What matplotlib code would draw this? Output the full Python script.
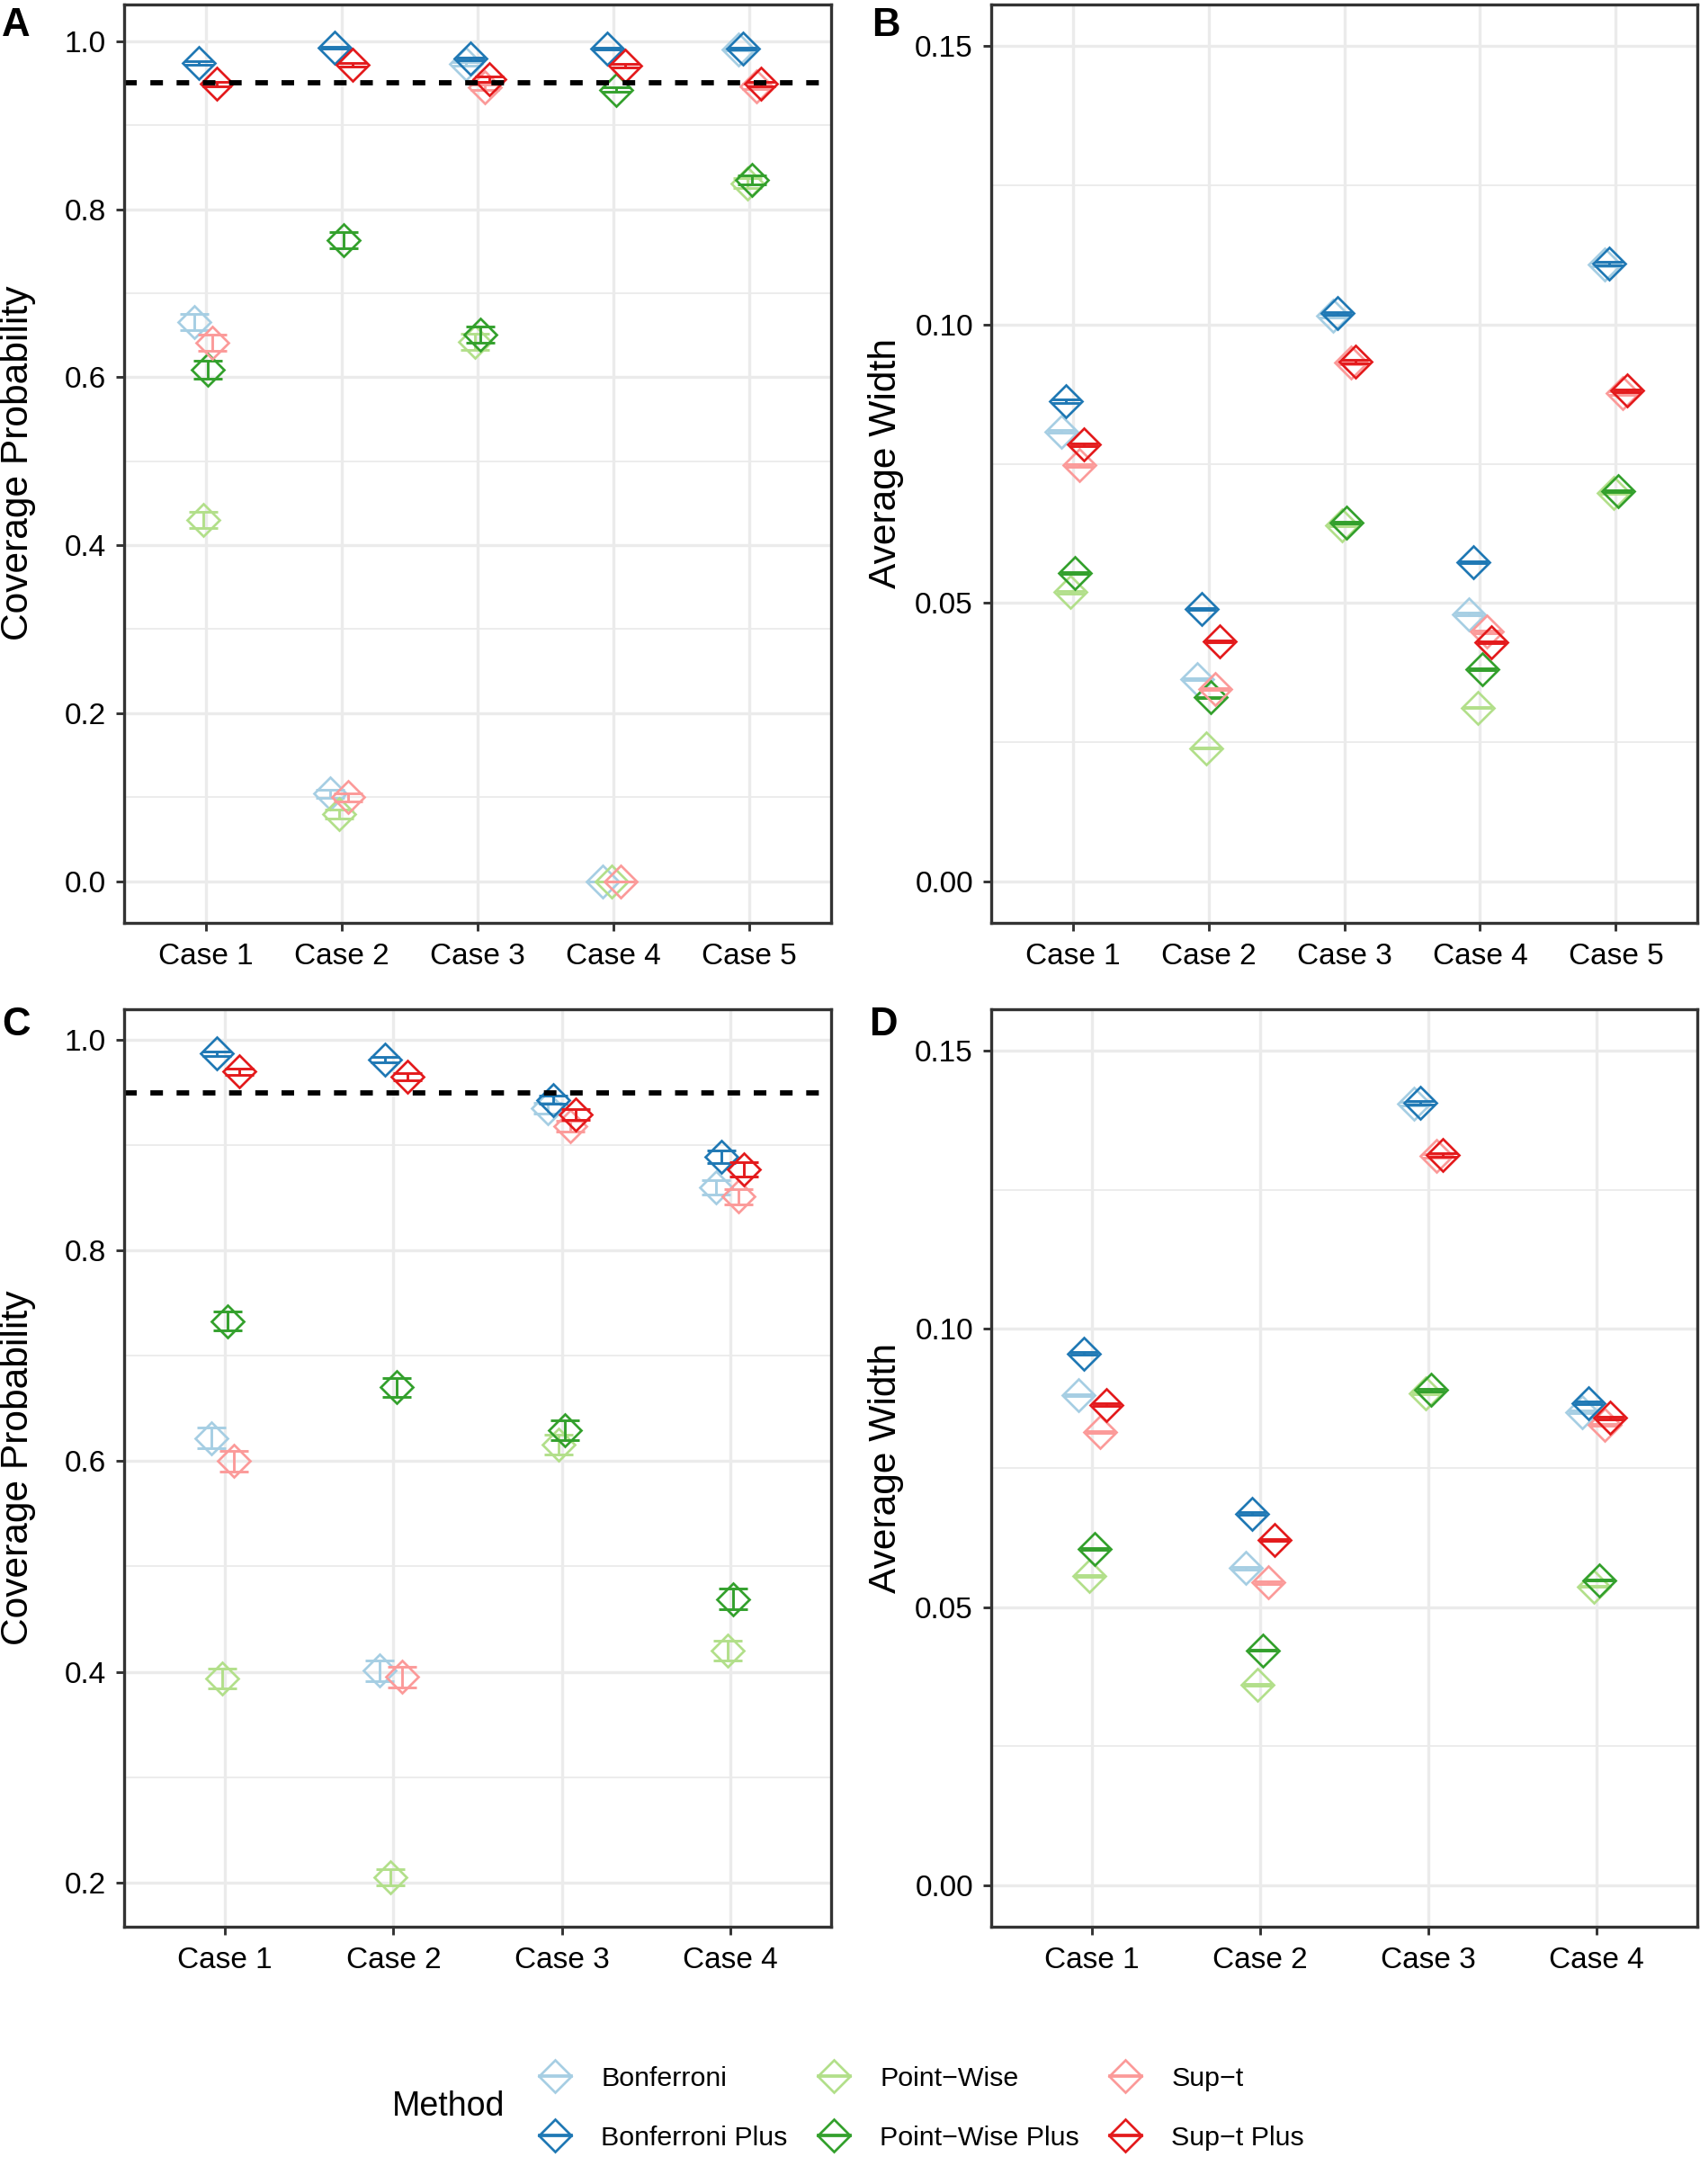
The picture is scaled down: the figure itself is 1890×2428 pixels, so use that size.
import numpy as np
import matplotlib
matplotlib.use("Agg")
import matplotlib.pyplot as plt
from matplotlib.lines import Line2D

plt.rcParams['font.family'] = ['Liberation Sans', 'DejaVu Sans']

# ------------------------------
# DONNÉES
# ------------------------------
methods = ["Bonferroni", "Bonferroni Plus", "Point\u2212Wise",
           "Point\u2212Wise Plus", "Sup\u2212t", "Sup\u2212t Plus"]
colors = ["#A6CEE3", "#1F78B4", "#B2DF8A", "#33A02C", "#FB9A99", "#E31A1C"]

cases_top = ["Case 1", "Case 2", "Case 3", "Case 4", "Case 5"]
cases_bottom = ["Case 1", "Case 2", "Case 3", "Case 4"]

# Panel A : coverage (one row per method, one column per case)
cov_a = [
    [0.666, 0.104, 0.973, 0.000, 0.990],
    [0.974, 0.992, 0.979, 0.991, 0.991],
    [0.430, 0.080, 0.642, 0.000, 0.831],
    [0.609, 0.763, 0.651, 0.942, 0.835],
    [0.641, 0.100, 0.945, 0.000, 0.946],
    [0.949, 0.972, 0.955, 0.971, 0.949],
]
cov_a_err = [
    [0.0095, 0.005, 0.002, 0.000, 0.001],
    [0.002, 0.001, 0.002, 0.001, 0.001],
    [0.0098, 0.005, 0.0095, 0.000, 0.006],
    [0.0105, 0.0094, 0.0095, 0.0027, 0.005],
    [0.010, 0.005, 0.003, 0.000, 0.003],
    [0.003, 0.002, 0.003, 0.002, 0.003],
]

# Panel B : average width
wid_b = [
    [0.0808, 0.0363, 0.1016, 0.0480, 0.1108],
    [0.0862, 0.0489, 0.1020, 0.0573, 0.1110],
    [0.0519, 0.0239, 0.0640, 0.0312, 0.0698],
    [0.0554, 0.0330, 0.0644, 0.0381, 0.0701],
    [0.0747, 0.0345, 0.0931, 0.0448, 0.0877],
    [0.0784, 0.0431, 0.0933, 0.0429, 0.0881],
]
wid_b_err = [
    [0.0003, 0.0002, 0.0003, 0.0002, 0.0003],
    [0.0003, 0.0002, 0.0003, 0.0002, 0.0003],
    [0.0002, 0.0001, 0.0002, 0.0001, 0.0002],
    [0.0002, 0.0001, 0.0002, 0.0002, 0.0002],
    [0.0003, 0.0002, 0.0003, 0.0002, 0.0003],
    [0.0003, 0.0002, 0.0003, 0.0002, 0.0003],
]

# Panel C : coverage
cov_c = [
    [0.622, 0.401, 0.935, 0.860],
    [0.987, 0.981, 0.943, 0.889],
    [0.394, 0.205, 0.616, 0.420],
    [0.733, 0.670, 0.629, 0.469],
    [0.600, 0.395, 0.918, 0.851],
    [0.970, 0.965, 0.929, 0.877],
]
cov_c_err = [
    [0.0096, 0.0096, 0.005, 0.007],
    [0.002, 0.0025, 0.004, 0.006],
    [0.0095, 0.008, 0.0095, 0.0095],
    [0.0088, 0.0092, 0.0094, 0.0098],
    [0.0097, 0.0096, 0.0055, 0.007],
    [0.003, 0.0035, 0.005, 0.0065],
]

# Panel D : average width
wid_d = [
    [0.0881, 0.0570, 0.1405, 0.0851],
    [0.0956, 0.0668, 0.1407, 0.0867],
    [0.0556, 0.0360, 0.0885, 0.0537],
    [0.0604, 0.0422, 0.0890, 0.0548],
    [0.0815, 0.0544, 0.1311, 0.0828],
    [0.0864, 0.0621, 0.1313, 0.0840],
]
wid_d_err = [
    [0.0002, 0.0002, 0.0003, 0.0002],
    [0.0002, 0.0002, 0.0003, 0.0002],
    [0.0002, 0.0001, 0.0002, 0.0001],
    [0.0002, 0.0001, 0.0002, 0.0001],
    [0.0002, 0.0002, 0.0003, 0.0002],
    [0.0002, 0.0002, 0.0003, 0.0002],
]

# ------------------------------
# STYLE
# ------------------------------
W, H = 1890, 2428
DPI = 300
fig = plt.figure(figsize=(W / DPI, H / DPI), dpi=DPI)

BORDER = "#333333"
GRID = "#EBEBEB"
MS = 6.1
MEW = 0.65
CAP = 3.84
DODGE = 0.2


def px_axes(left, top, right, bottom):
    """Axes a partir de coordonnees en pixels."""
    return fig.add_axes([left / W, 1 - bottom / H, (right - left) / W, (bottom - top) / H])


def draw_panel(ax, cases, vals, errs, ylim, major, minor, fmt, hline=None):
    n = len(cases)
    xs = np.arange(1, n + 1)
    for y in major:
        ax.axhline(y, color=GRID, lw=0.8, zorder=0)
    for y in minor:
        ax.axhline(y, color=GRID, lw=0.45, zorder=0)
    for x in xs:
        ax.axvline(x, color=GRID, lw=0.8, zorder=0)

    for i, (v, e, c) in enumerate(zip(vals, errs, colors)):
        x = xs + (i - 2.5) * DODGE / 6
        ax.errorbar(x, v, yerr=e, fmt='none', ecolor=c, elinewidth=0.7,
                    capsize=CAP, capthick=0.7, zorder=2 + i)
        ax.plot(x, v, 'D', ms=MS, mfc='none', mec=c, mew=MEW, zorder=2 + i)

    if hline is not None:
        ax.axhline(hline, color='black', lw=1.4, dashes=(2.4, 2.6), zorder=20)

    ax.set_xlim(0.4, n + 0.6)
    ax.set_ylim(*ylim)
    ax.set_xticks(xs)
    ax.set_xticklabels(cases)
    ax.set_yticks(major)
    ax.set_yticklabels([fmt.format(t) for t in major])
    ax.tick_params(axis='both', direction='out', length=2.2, width=0.7,
                   color=BORDER, labelsize=8, labelcolor='black')
    ax.tick_params(axis='y', pad=2.6)
    ax.tick_params(axis='x', pad=3.0)
    for s in ax.spines.values():
        s.set_color(BORDER)
        s.set_linewidth(0.8)
        s.set_zorder(30)


# A
axA = px_axes(138, 5, 924, 1026)
draw_panel(axA, cases_top, cov_a, cov_a_err, (-0.0497, 1.0437),
           [0.0, 0.2, 0.4, 0.6, 0.8, 1.0], [0.1, 0.3, 0.5, 0.7, 0.9], "{:.1f}", hline=0.95)
# B
axB = px_axes(1102, 5, 1887, 1026)
draw_panel(axB, cases_top, wid_b, wid_b_err, (-0.0075, 0.1575),
           [0.0, 0.05, 0.10, 0.15], [0.025, 0.075, 0.125], "{:.2f}")
# C
axC = px_axes(138, 1122, 924, 2142)
draw_panel(axC, cases_bottom, cov_c, cov_c_err, (0.158, 1.029),
           [0.2, 0.4, 0.6, 0.8, 1.0], [0.3, 0.5, 0.7, 0.9], "{:.1f}", hline=0.95)
# D
axD = px_axes(1102, 1122, 1887, 2142)
draw_panel(axD, cases_bottom, wid_d, wid_d_err, (-0.0075, 0.1575),
           [0.0, 0.05, 0.10, 0.15], [0.025, 0.075, 0.125], "{:.2f}")

# titres d'axes
yc_top = 1 - 515 / H
yc_bot = 1 - 1632 / H
for yc in (yc_top, yc_bot):
    fig.text(20 / W, yc, "Coverage Probability", rotation=90, ha='center', va='center', fontsize=10.2)
    fig.text(985 / W, yc, "Average Width", rotation=90, ha='center', va='center', fontsize=10.2)

# lettres des panneaux
for lab, x, y in [("A", 2, 8), ("B", 969, 8), ("C", 2, 1119), ("D", 966, 1119)]:
    fig.text(x / W, 1 - y / H, lab, fontsize=10.5, fontweight='bold', ha='left', va='top')

# legende
handles = [Line2D([0], [0], color=c, lw=0.9, marker='D', ms=MS, mfc='none', mec=c, mew=MEW)
           for c in colors]
fig.legend(handles, methods, ncol=3, loc='center', bbox_to_anchor=(1025 / W, 1 - 2344 / H),
           frameon=False, fontsize=7.3, handlelength=1.15, handletextpad=1.1,
           columnspacing=1.12, labelspacing=1.25)
fig.text(436 / W, 1 - 2342 / H, "Method", fontsize=9, ha='left', va='center')

fig.savefig("out.png", dpi=DPI)
